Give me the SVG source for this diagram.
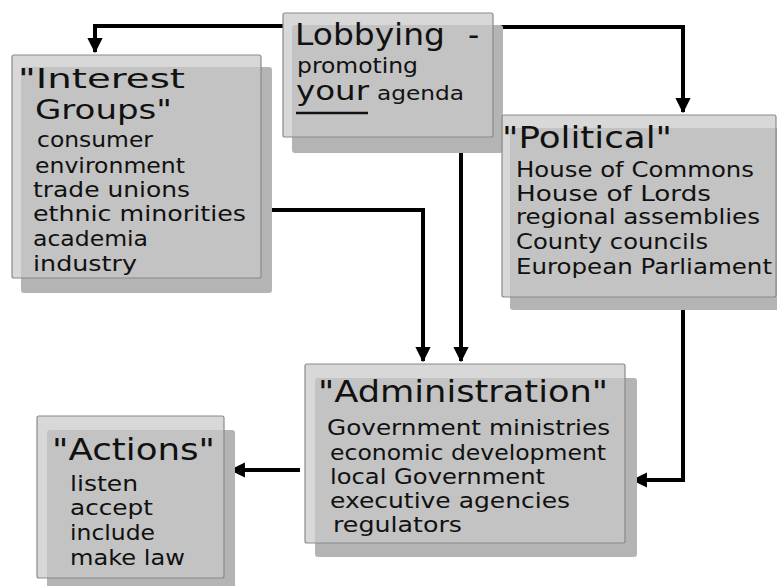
<svg xmlns="http://www.w3.org/2000/svg" width="777" height="586" viewBox="0 0 777 586">
  <style>
    .shadow { fill: #b4b4b4; }
    .panel { fill: #c9c9c9; fill-opacity: 0.72; stroke: #8a8a8a; stroke-width: 1.2; }
    text { font-family: "Comic Sans MS", "DejaVu Sans", sans-serif; fill: #111; }
    .title { font-size: 31px; }
    .title-sm { font-size: 27px; }
    .item { font-size: 21px; }
    .wire { fill: none; stroke: #000; stroke-width: 4; }
  </style>
  <defs>
    <marker id="arrow" viewBox="0 0 12 12" refX="11" refY="6" markerWidth="3.8" markerHeight="3.8" orient="auto" markerUnits="strokeWidth">
      <path d="M0,0 L12,6 L0,12 Z" fill="#000"/>
    </marker>
  </defs>
  <rect width="777" height="586" fill="#fff"/>

  <!-- connectors -->
  <g id="connectors">
    <path class="wire" d="M283,26 H95 V52" marker-end="url(#arrow)"/>
    <path class="wire" d="M493,27 H683 V112" marker-end="url(#arrow)"/>
    <path class="wire" d="M461,148 V361" marker-end="url(#arrow)"/>
    <path class="wire" d="M270,210 H423 V361" marker-end="url(#arrow)"/>
    <path class="wire" d="M683,305 V480 H633" marker-end="url(#arrow)"/>
    <path class="wire" d="M300,470 H231" marker-end="url(#arrow)"/>
  </g>

  <!-- Interest Groups -->
  <g id="interest-groups">
    <rect class="shadow" x="21" y="67" width="251" height="226" rx="3"/>
    <rect class="panel" x="12" y="55" width="249" height="223" rx="2"/>
    <text class="title-sm" x="18" y="88" textLength="167" lengthAdjust="spacingAndGlyphs">"Interest</text>
    <text class="title-sm" x="35" y="119" textLength="137" lengthAdjust="spacingAndGlyphs">Groups"</text>
    <text class="item" x="37" y="147" textLength="116" lengthAdjust="spacingAndGlyphs">consumer</text>
    <text class="item" x="35" y="173" textLength="150" lengthAdjust="spacingAndGlyphs">environment</text>
    <text class="item" x="33" y="197" textLength="157" lengthAdjust="spacingAndGlyphs">trade unions</text>
    <text class="item" x="33" y="221" textLength="213" lengthAdjust="spacingAndGlyphs">ethnic minorities</text>
    <text class="item" x="33" y="246" textLength="115" lengthAdjust="spacingAndGlyphs">academia</text>
    <text class="item" x="33" y="271" textLength="104" lengthAdjust="spacingAndGlyphs">industry</text>
  </g>

  <!-- Lobbying -->
  <g id="lobbying">
    <rect class="shadow" x="292" y="25" width="211" height="128" rx="3"/>
    <rect class="panel" x="283" y="13" width="210" height="124" rx="2"/>
    <text class="title" x="295" y="45" textLength="150" lengthAdjust="spacingAndGlyphs">Lobbying</text>
    <text class="title" x="468" y="45">-</text>
    <text x="297" y="73" font-size="21" textLength="121" lengthAdjust="spacingAndGlyphs">promoting</text>
    <text x="296" y="100" font-size="27" textLength="73" lengthAdjust="spacingAndGlyphs">your</text>
    <line x1="296" y1="113" x2="368" y2="113" stroke="#111" stroke-width="2.5"/>
    <text x="377" y="100" font-size="20" textLength="87" lengthAdjust="spacingAndGlyphs">agenda</text>
  </g>

  <!-- Political -->
  <g id="political">
    <rect class="shadow" x="510" y="128" width="270" height="182" rx="3"/>
    <rect class="panel" x="502" y="115" width="274" height="182" rx="2"/>
    <text class="title" x="502" y="148" textLength="170" lengthAdjust="spacingAndGlyphs">"Political"</text>
    <text class="item" x="516" y="177" textLength="238" lengthAdjust="spacingAndGlyphs">House of Commons</text>
    <text class="item" x="516" y="201" textLength="195" lengthAdjust="spacingAndGlyphs">House of Lords</text>
    <text class="item" x="516" y="224" textLength="244" lengthAdjust="spacingAndGlyphs">regional assemblies</text>
    <text class="item" x="516" y="249" textLength="192" lengthAdjust="spacingAndGlyphs">County councils</text>
    <text class="item" x="516" y="274" textLength="256" lengthAdjust="spacingAndGlyphs">European Parliament</text>
  </g>

  <!-- Administration -->
  <g id="administration">
    <rect class="shadow" x="315" y="378" width="322" height="179" rx="3"/>
    <rect class="panel" x="305" y="364" width="320" height="179" rx="2"/>
    <text class="title" x="318" y="402" textLength="290" lengthAdjust="spacingAndGlyphs">"Administration"</text>
    <text class="item" x="327" y="435" textLength="283" lengthAdjust="spacingAndGlyphs">Government ministries</text>
    <text class="item" x="330" y="460" textLength="276" lengthAdjust="spacingAndGlyphs">economic development</text>
    <text class="item" x="330" y="484" textLength="215" lengthAdjust="spacingAndGlyphs">local Government</text>
    <text class="item" x="330" y="508" textLength="240" lengthAdjust="spacingAndGlyphs">executive agencies</text>
    <text class="item" x="333" y="532" textLength="129" lengthAdjust="spacingAndGlyphs">regulators</text>
  </g>

  <!-- Actions -->
  <g id="actions">
    <rect class="shadow" x="47" y="430" width="188" height="160" rx="3"/>
    <rect class="panel" x="37" y="416" width="187" height="162" rx="2"/>
    <text class="title" x="52" y="460" textLength="163" lengthAdjust="spacingAndGlyphs">"Actions"</text>
    <text class="item" x="70" y="491" textLength="68" lengthAdjust="spacingAndGlyphs">listen</text>
    <text class="item" x="70" y="515" textLength="83" lengthAdjust="spacingAndGlyphs">accept</text>
    <text class="item" x="70" y="540" textLength="85" lengthAdjust="spacingAndGlyphs">include</text>
    <text class="item" x="70" y="565" textLength="115" lengthAdjust="spacingAndGlyphs">make law</text>
  </g>
</svg>
